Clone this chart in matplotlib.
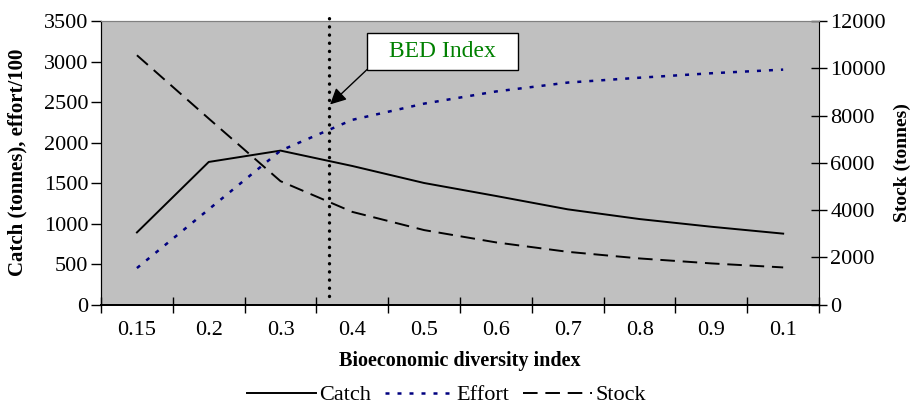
import matplotlib.pyplot as plt
import matplotlib.patches as mpatches
import numpy as np

plt.rcParams['font.family'] = ['Liberation Serif', 'DejaVu Serif']

# Data
categories = ['0.15', '0.2', '0.3', '0.4', '0.5', '0.6', '0.7', '0.8', '0.9', '0.1']
catch = [890, 1760, 1900, 1710, 1500, 1340, 1175, 1055, 960, 875]
effort = [450, 1175, 1900, 2280, 2480, 2630, 2740, 2800, 2855, 2900]
stock = [10550, 7870, 5220, 3920, 3150, 2630, 2230, 1950, 1740, 1570]
bed_x = 2.68

x = np.arange(len(categories))

fig = plt.figure(figsize=(9.11, 4.07), dpi=100)
ax = fig.add_axes([0.1109, 0.2518, 0.7882, 0.6966])
ax2 = ax.twinx()

ax.set_facecolor('#C0C0C0')

l1, = ax.plot(x, catch, color='black', lw=1.4, label='Catch')
l2, = ax.plot(x, effort, color='#000080', lw=1.8, linestyle=(0, (1.6, 3.2)), label='Effort')
l3, = ax2.plot(x, stock, color='black', lw=1.4, linestyle=(0, (7.5, 4.0)), label='Stock')

ax.set_xlim(-0.5, len(categories) - 0.5)
ax.set_ylim(0, 3500)
ax2.set_ylim(0, 12000)
ax.set_yticks(np.arange(0, 3501, 500))
ax2.set_yticks(np.arange(0, 12001, 2000))

ax.set_xticks(np.arange(-0.5, len(categories), 1))
ax.set_xticklabels([])
ax.set_xticks(x, minor=True)
ax.set_xticklabels(categories, minor=True)
ax.tick_params(axis='x', which='major', direction='inout', length=12, width=1)
ax.tick_params(axis='x', which='minor', length=0, labelsize=16, pad=12)
ax.tick_params(axis='y', direction='out', length=7, width=1, labelsize=16, pad=2)
ax2.tick_params(axis='y', direction='inout', length=12, width=1, labelsize=16, pad=2)

for a in (ax, ax2):
    a.spines['top'].set_color('#808080')
    a.spines['left'].set_color('black')
    a.spines['bottom'].set_color('black')
    a.spines['bottom'].set_linewidth(1.3)
ax2.spines['right'].set_color('black')
ax.spines['right'].set_visible(False)

ax.set_xlabel('Bioeconomic diversity index', fontsize=14.5, fontweight='bold', labelpad=8)
ax.set_ylabel('Catch (tonnes), effort/100', fontsize=15, fontweight='bold')
ax.yaxis.set_label_coords(-0.102, 0.5)
ax2.set_ylabel('Stock (tonnes)', fontsize=14, fontweight='bold')
ax2.yaxis.set_label_coords(1.104, 0.5)

# BED index marker
ax.plot([bed_x, bed_x], [105, 3590], color='black', lw=2.4,
        linestyle=(0, (0.05, 2.4)), dash_capstyle='round', clip_on=False, zorder=5)

box = mpatches.Rectangle((3.205, 2901), 2.103, 456, facecolor='white',
                         edgecolor='black', lw=1, zorder=6)
ax.add_patch(box)
ax.text(4.256, 3125, 'BED Index', color='#008000', fontsize=17,
        ha='center', va='center', zorder=7)
ax.annotate('', xy=(2.69, 2470), xytext=(3.205, 2901),
            arrowprops=dict(arrowstyle='-|>', color='black', lw=1,
                            mutation_scale=24, shrinkA=0, shrinkB=0),
            zorder=7)

fig.legend([l1, l2, l3], ['Catch', 'Effort', 'Stock'], loc='lower center',
           bbox_to_anchor=(0.49, -0.045), ncol=3, frameon=False, fontsize=16,
           handlelength=3.1, handletextpad=0.15, columnspacing=0.6)

fig.savefig('out.png', dpi=100)
